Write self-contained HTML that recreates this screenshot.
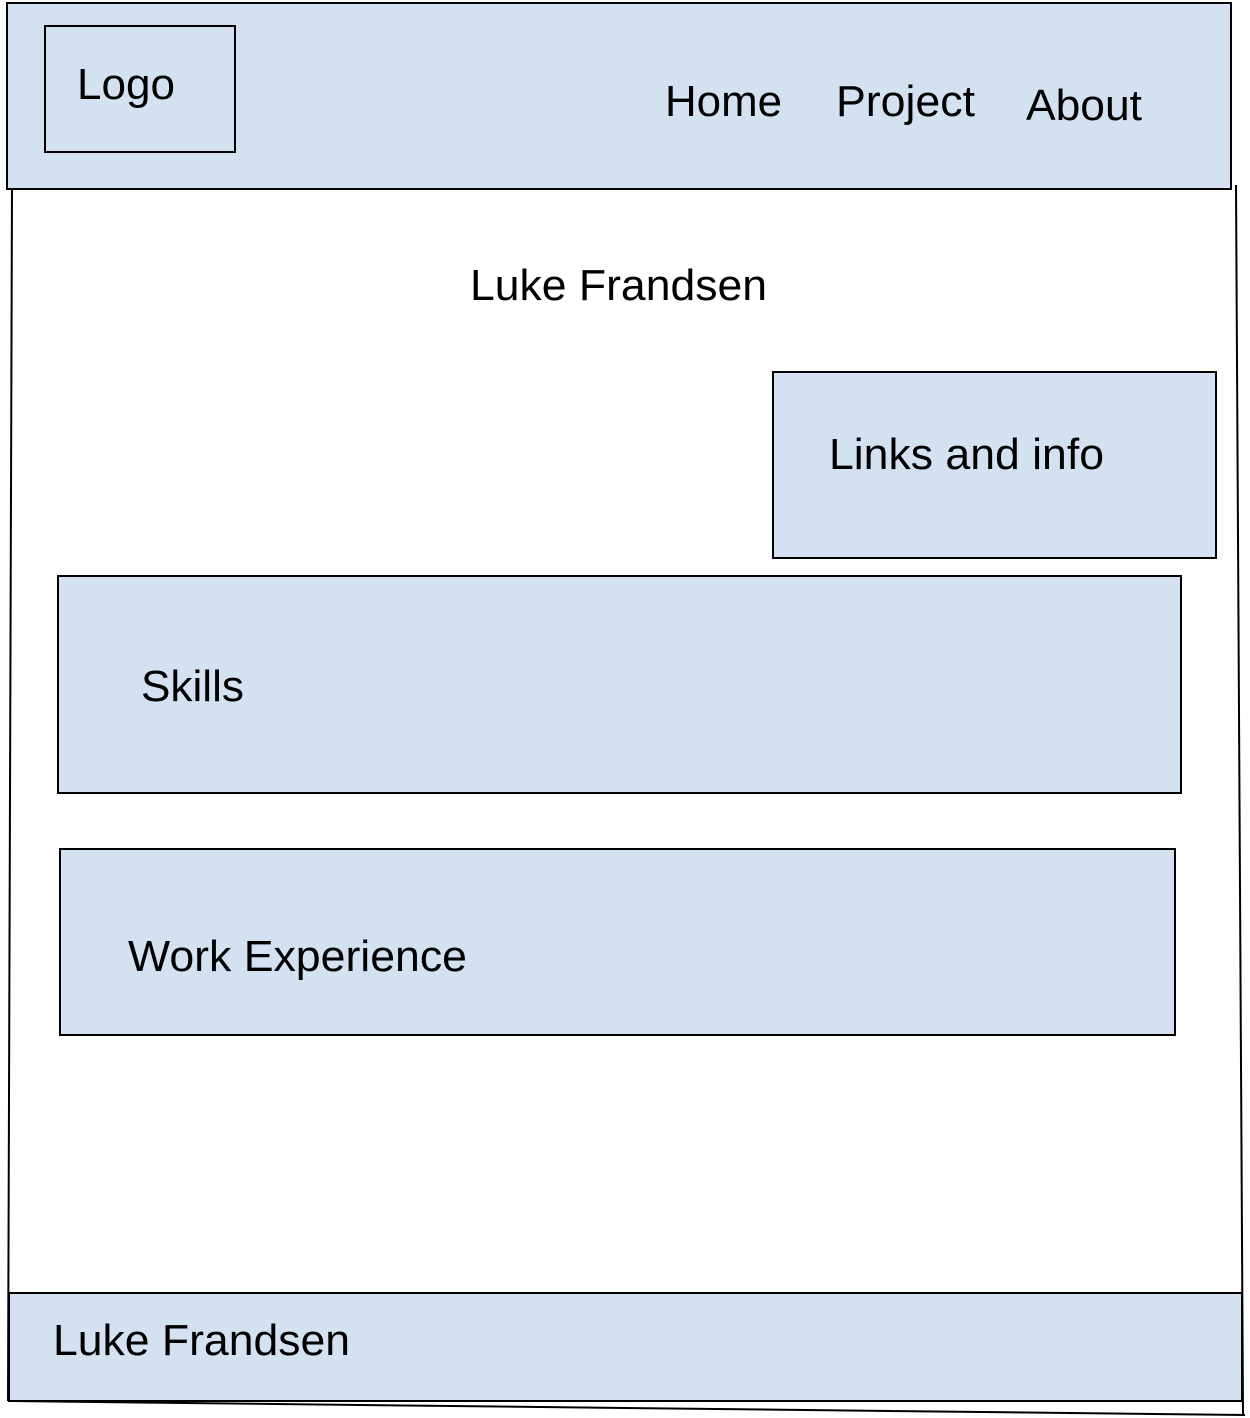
<!DOCTYPE html>
<html><head><meta charset="utf-8"><style>html,body{margin:0;padding:0;background:#fff}svg{display:block}text{font-family:"Liberation Sans",sans-serif;font-size:44px;fill:#000}</style></head>
<body>
<svg width="1250" height="1418" viewBox="0 0 1250 1418" xmlns="http://www.w3.org/2000/svg">
<line x1="12" y1="189" x2="8" y2="1401" stroke="#000" stroke-width="2"/>
<line x1="1236" y1="185" x2="1243" y2="1416" stroke="#000" stroke-width="2"/>
<line x1="10" y1="1401" x2="1245" y2="1415" stroke="#000" stroke-width="2"/>
<rect x="7" y="3" width="1224" height="186" fill="#d4e1f1" stroke="#000" stroke-width="2"/>
<rect x="45" y="26" width="190" height="126" fill="none" stroke="#000" stroke-width="2"/>
<text x="77" y="99" textLength="98" lengthAdjust="spacingAndGlyphs">Logo</text>
<text x="665" y="116" textLength="117" lengthAdjust="spacingAndGlyphs">Home</text>
<text x="836" y="116" textLength="139" lengthAdjust="spacingAndGlyphs">Project</text>
<text x="1026" y="120" textLength="116" lengthAdjust="spacingAndGlyphs">About</text>
<text x="470" y="300" textLength="297" lengthAdjust="spacingAndGlyphs">Luke Frandsen</text>
<rect x="773" y="372" width="443" height="186" fill="#d4e1f1" stroke="#000" stroke-width="2"/>
<text x="829" y="469" textLength="275" lengthAdjust="spacingAndGlyphs">Links and info</text>
<rect x="58" y="576" width="1123" height="217" fill="#d4e1f1" stroke="#000" stroke-width="2"/>
<text x="141" y="701" textLength="103" lengthAdjust="spacingAndGlyphs">Skills</text>
<rect x="60" y="849" width="1115" height="186" fill="#d4e1f1" stroke="#000" stroke-width="2"/>
<text x="128" y="971" textLength="339" lengthAdjust="spacingAndGlyphs">Work Experience</text>
<rect x="9" y="1293" width="1233" height="108" fill="#d4e1f1" stroke="#000" stroke-width="2"/>
<text x="53" y="1355" textLength="297" lengthAdjust="spacingAndGlyphs">Luke Frandsen</text>
</svg>
</body></html>
